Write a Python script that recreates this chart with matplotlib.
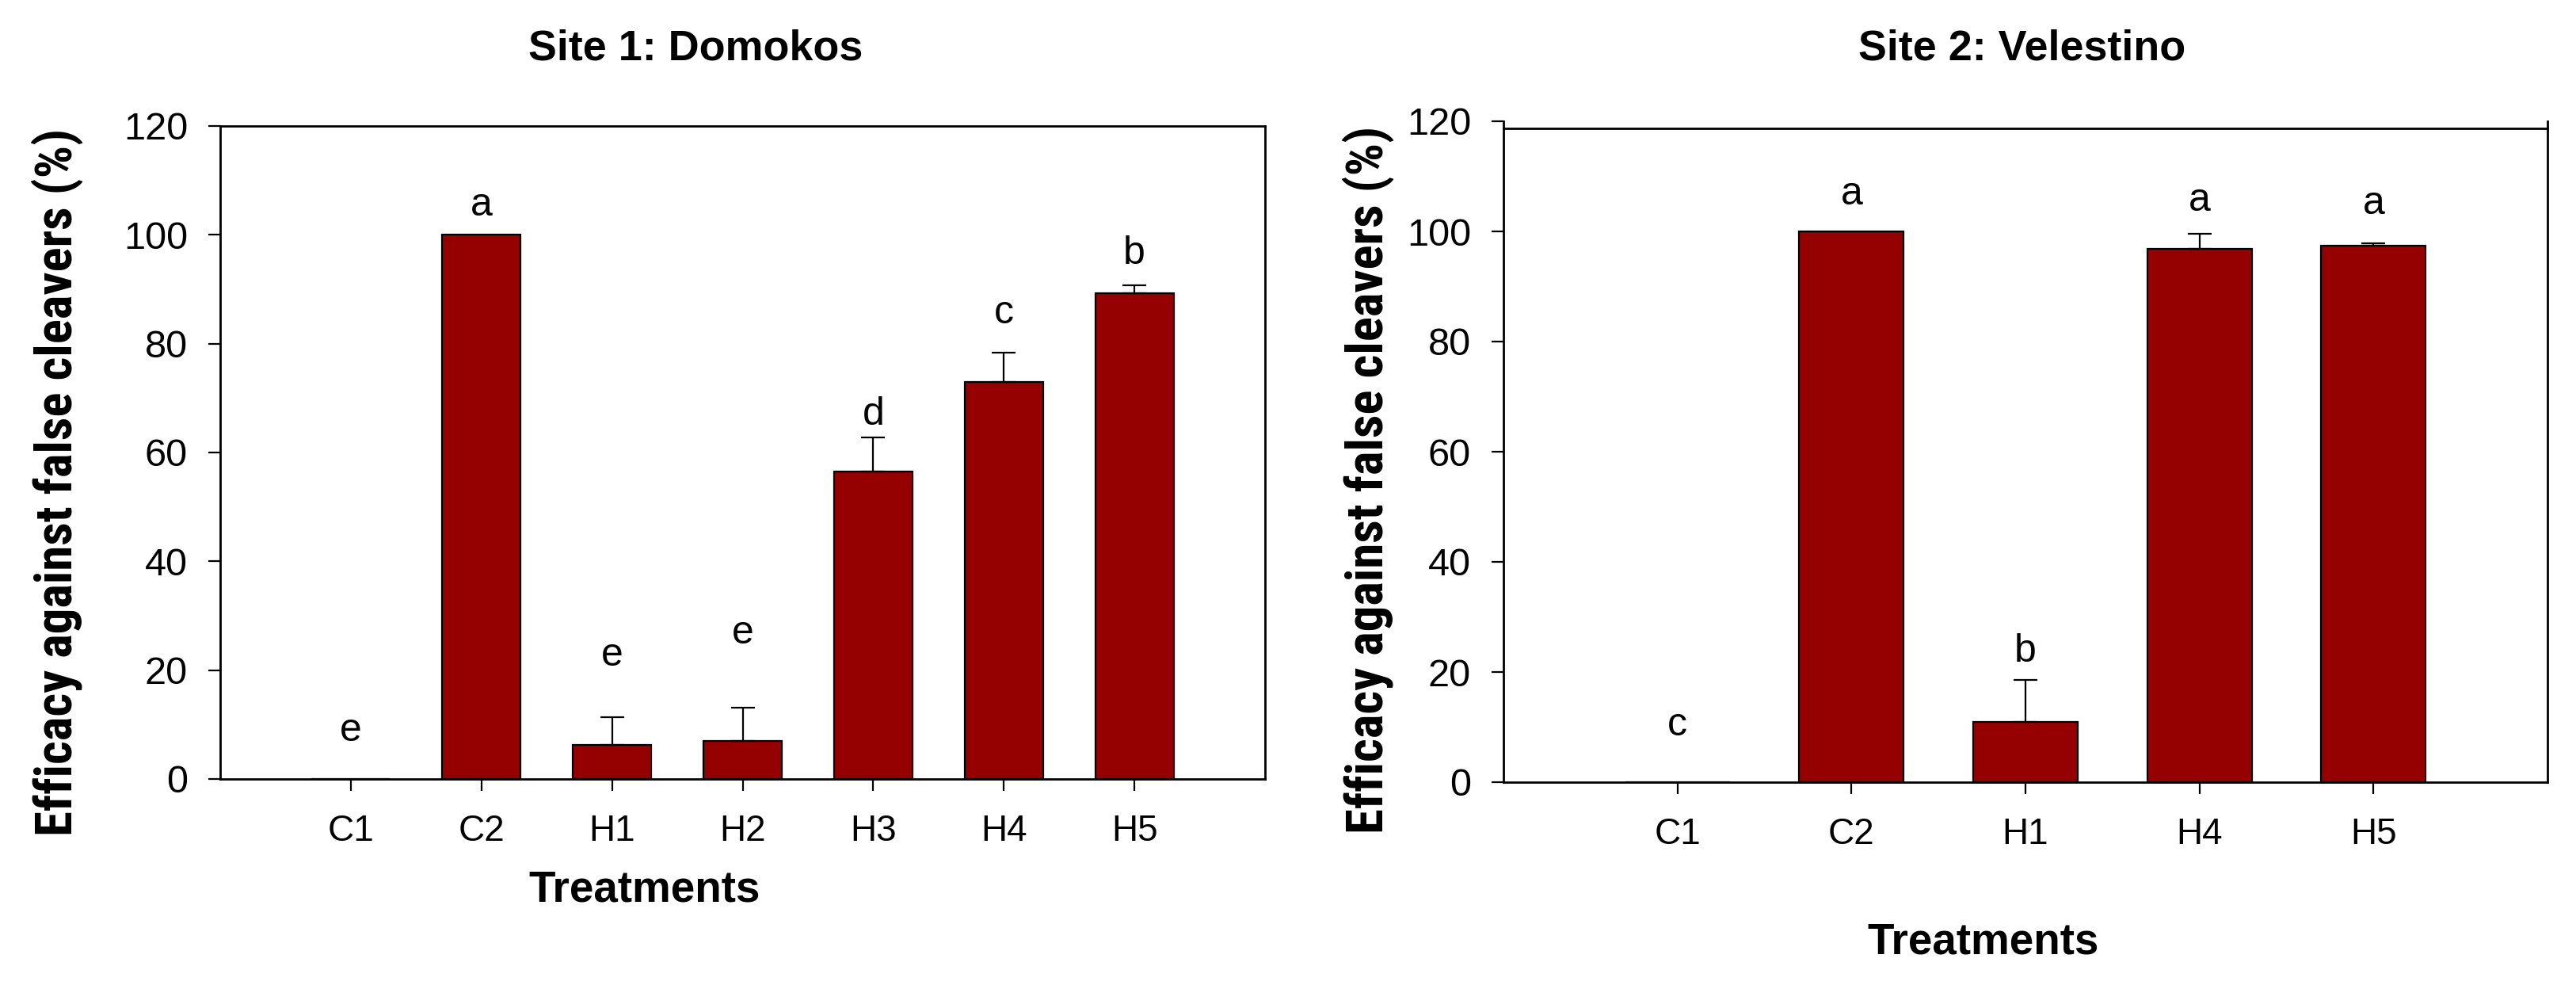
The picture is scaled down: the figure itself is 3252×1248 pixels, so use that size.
import numpy as np
import matplotlib
matplotlib.use("Agg")
import matplotlib.pyplot as plt
from matplotlib import font_manager
from matplotlib.font_manager import FontProperties

# ---------------- data ----------------
site1_title = "Site 1: Domokos"
site1_cats = ["C1", "C2", "H1", "H2", "H3", "H4", "H5"]
site1_vals = [0.0, 100.0, 6.3, 7.0, 56.5, 72.9, 89.2]
site1_err = [0.0, 0.0, 5.1, 6.1, 6.2, 5.5, 1.6]
site1_letters = ["e", "a", "e", "e", "d", "c", "b"]
site1_letter_y = [8.9, 105.4, 22.7, 26.8, 67.0, 85.7, 96.6]

site2_title = "Site 2: Velestino"
site2_cats = ["C1", "C2", "H1", "H4", "H5"]
site2_vals = [0.0, 100.0, 10.9, 96.8, 97.4]
site2_err = [0.0, 0.0, 7.7, 2.7, 0.4]
site2_letters = ["c", "a", "b", "a", "a"]
site2_letter_y = [10.4, 106.8, 23.7, 105.6, 105.0]

yticks = [0, 20, 40, 60, 80, 100, 120]
ylabel = "Efficacy against false cleavers (%)"
xlabel = "Treatments"

# ---------------- style ----------------
avail = {f.name for f in font_manager.fontManager.ttflist}
base = "Liberation Sans" if "Liberation Sans" in avail else "DejaVu Sans"
plt.rcParams["font.family"] = [base, "DejaVu Sans"]


def find_narrow_bold():
    prefs = ["Liberation Sans Narrow", "Roboto Condensed", "Open Sans Condensed",
             "DejaVu Sans Condensed", "Noto Sans Condensed"]
    fl = font_manager.fontManager.ttflist
    def is_bold(f):
        w = f.weight
        return (isinstance(w, int) and w >= 600) or (isinstance(w, str) and "bold" in w.lower())
    def is_narrow(f):
        fn = f.fname.lower()
        return ("narrow" in fn or "condensed" in fn or "narrow" in f.name.lower()
                or "condensed" in f.name.lower()
                or f.stretch in ("condensed", "semi-condensed", "extra-condensed"))
    cands = [f for f in fl if is_bold(f) and is_narrow(f)
             and "italic" not in f.fname.lower() and "oblique" not in f.fname.lower()]
    for p in prefs:
        for f in cands:
            if p.lower().replace(" ", "") in (f.name + f.fname).lower().replace(" ", ""):
                return FontProperties(fname=f.fname)
    if cands:
        return FontProperties(fname=cands[0].fname)
    return FontProperties(family=[base, "DejaVu Sans"], weight="bold")


narrow_fp = find_narrow_bold()

W, H = 3252, 1248
DPI = 100
fig = plt.figure(figsize=(W / DPI, H / DPI), dpi=DPI)

BAR_COLOR = "#950000"
SPINE_LW = 2.0
YTICK_FS = 35
XTICK_FS = 33
LETTER_FS = 36


def px_axes(x0, x1, y_top, y_bot):
    return [x0 / W, 1 - y_bot / H, (x1 - x0) / W, (y_bot - y_top) / H]


def draw_panel(ax, cats, vals, err, letters, letter_y, top_spine=None):
    x = np.arange(len(cats))
    vals = np.asarray(vals)
    err = np.asarray(err)
    ax.bar(x, vals, width=0.6, color=BAR_COLOR, edgecolor="black",
           linewidth=1.6, zorder=2)
    m = err > 0
    ax.errorbar(x[m], vals[m], yerr=[np.zeros(m.sum()), err[m]], fmt="none",
                ecolor="black", elinewidth=1.6, capsize=10.5, capthick=1.6,
                zorder=3)
    for xi, lt, ly in zip(x, letters, letter_y):
        ax.text(xi, ly, lt, ha="center", va="center", fontsize=LETTER_FS,
                zorder=4)
    ax.set_xlim(-1, len(cats))
    ax.set_ylim(0, 120)
    ax.set_yticks(yticks)
    ax.set_xticks(x)
    ax.set_xticklabels(cats)
    ax.tick_params(axis="both", direction="out", length=10.5, width=1.6, pad=19)
    ax.tick_params(axis="y", labelsize=YTICK_FS)
    ax.tick_params(axis="x", labelsize=XTICK_FS, pad=21)
    ax.tick_params(top=False, right=False)
    for s in ax.spines.values():
        s.set_linewidth(SPINE_LW)
    if top_spine is not None:
        ax.spines["top"].set_position(("data", top_spine))


ax1 = fig.add_axes(px_axes(278, 1597, 159, 983))
draw_panel(ax1, site1_cats, site1_vals, site1_err, site1_letters, site1_letter_y)

ax2 = fig.add_axes(px_axes(1898, 3216, 153, 987))
draw_panel(ax2, site2_cats, site2_vals, site2_err, site2_letters, site2_letter_y,
           top_spine=118.7)

# ---------------- texts ----------------
def ftext(xp, yp, s, **kw):
    return fig.text(xp / W, 1 - yp / H, s, ha="center", va="center", **kw)

t1 = ftext(878, 62, site1_title, fontsize=38, fontweight="bold")
t2 = ftext(2553, 62, site2_title, fontsize=38, fontweight="bold")
x1l = ftext(814, 1124, xlabel, fontsize=38, fontweight="bold")
x2l = ftext(2504, 1189, xlabel, fontsize=38, fontweight="bold")
y1l = ftext(72, 608, ylabel, rotation=90, fontproperties=narrow_fp)
y2l = ftext(1727, 605, ylabel, rotation=90, fontproperties=narrow_fp)
y1l.set_fontsize(40)
y2l.set_fontsize(40)

# fit text sizes to measured extents in the reference
fig.canvas.draw()
r = fig.canvas.get_renderer()
def fit(texts, target, vertical=False):
    bb = texts[0].get_window_extent(r)
    cur = bb.height if vertical else bb.width
    fs = texts[0].get_fontsize() * target / cur
    for t in texts:
        t.set_fontsize(fs)

fit([t1, t2], 421)
fit([x1l, x2l], 292)
fit([y1l, y2l], 893, vertical=True)

fig.savefig("out.png", dpi=DPI, facecolor="white")
